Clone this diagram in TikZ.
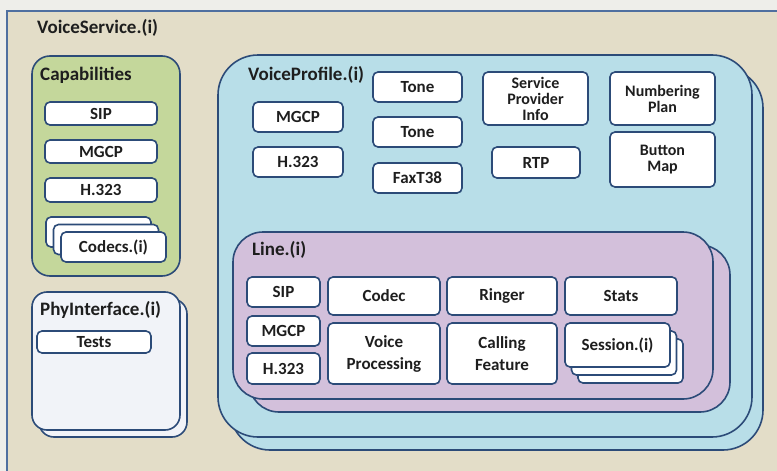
\documentclass[tikz,border=0pt]{standalone}
\usepackage{fontspec}
\setmainfont{Carlito}
\begin{document}
\begin{tikzpicture}[x=1pt,y=-1pt]
\definecolor{canvas}{HTML}{EEEEEA}
\definecolor{frameFill}{HTML}{E3DDC8}
\definecolor{frameLine}{HTML}{4F6FA0}
\definecolor{edge}{HTML}{2C4B78}
\definecolor{capFill}{HTML}{C4D79B}
\definecolor{profFill}{HTML}{B8DEE8}
\definecolor{lineFill}{HTML}{D3C0DB}
\definecolor{phyFill}{HTML}{F1F3F8}
\definecolor{ink}{HTML}{1E1E1E}
\tikzset{
  region/.style={draw=edge, line width=1.6pt, inner sep=0pt, outer sep=0pt},
  item/.style={region, fill=white, rounded corners=5pt, text=ink,
    font=\bfseries\fontsize{17}{19}\selectfont, align=center},
  tight/.style={font=\bfseries\fontsize{16}{16}\selectfont},
  title/.style={anchor=west, inner sep=0pt, text=ink,
    font=\bfseries\fontsize{19}{21}\selectfont},
}
% box from corner (x1,y1) to corner (x2,y2)
\newcommand{\boxat}[7][]{%
  \node[#2, #1, minimum width={(#5-#3)*1pt}, minimum height={(#6-#4)*1pt}]
    (#7) at ({(#3+#5)/2},{(#4+#6)/2})}

\useasboundingbox (0,0) rectangle (777,471);
\fill[canvas] (0,0) rectangle (777,471);
\draw[frameLine, fill=frameFill, line width=1.2pt] (7,11) rectangle (800,500);
\node[title] (vs) at (37,28) {VoiceService.(i)};

% Capabilities
\boxat[fill=capFill, rounded corners=18pt]{region}{32}{56}{180}{276}{cap} {};
\node[title] (capt) at (40,75) {Capabilities};
\boxat{item}{45}{102}{157}{125}{capsip} {SIP};
\boxat{item}{45}{140}{157}{163}{capmgcp} {MGCP};
\boxat{item}{45}{178}{157}{202}{caph} {H.323};
\boxat{item}{46}{217}{151}{247}{codc} {};
\boxat{item}{53.5}{224.5}{158.5}{254.5}{codb} {};
\boxat{item}{61}{232}{166}{262}{coda} {Codecs.(i)};

% PhyInterface
\boxat[fill=phyFill, rounded corners=15pt]{region}{39}{299}{187}{437}{phyb} {};
\boxat[fill=phyFill, rounded corners=15pt]{region}{32}{292}{180}{430}{phy} {};
\node[title] (phyt) at (40,310) {PhyInterface.(i)};
\boxat{item}{37}{331}{151}{353}{tests} {Tests};

% VoiceProfile
\boxat[fill=profFill, rounded corners=40pt]{region}{230}{68}{763}{450}{vpb} {};
\boxat[fill=profFill, rounded corners=40pt]{region}{218}{55}{752}{437}{vp} {};
\node[title] (vpt) at (248,75) {VoiceProfile.(i)};
\boxat{item}{253}{102}{343}{132}{vpmgcp} {MGCP};
\boxat{item}{253}{147}{343}{177}{vph} {H.323};
\boxat{item}{373}{72}{462}{102}{tonea} {Tone};
\boxat{item}{373}{117}{462}{147}{toneb} {Tone};
\boxat{item}{373}{163}{462}{193}{fax} {FaxT38};
\boxat[tight]{item}{483}{72}{588}{125}{spi} {Service\\Provider\\Info};
\boxat{item}{492}{147}{580}{178}{rtp} {RTP};
\boxat[tight]{item}{610}{72}{715}{125}{nump} {Numbering\\Plan};
\boxat[tight]{item}{610}{132}{715}{187}{btn} {Button\\Map};

% Line
\boxat[fill=lineFill, rounded corners=30pt]{region}{249}{245}{730}{412}{lnb} {};
\boxat[fill=lineFill, rounded corners=30pt]{region}{233}{232}{713}{399}{ln} {};
\node[title] (lnt) at (252,250) {Line.(i)};
\boxat{item}{247}{277}{320}{307}{lsip} {SIP};
\boxat{item}{247}{316}{320}{346}{lmgcp} {MGCP};
\boxat{item}{247}{353}{320}{384}{lh} {H.323};
\boxat{item}{328}{277}{440}{315}{codec} {Codec};
\boxat{item}{328}{323}{440}{384}{vproc} {Voice\\[3pt]Processing};
\boxat{item}{447}{277}{557}{315}{ring} {Ringer};
\boxat{item}{447}{323}{557}{384}{call} {Calling\\[3pt]Feature};
\boxat{item}{565}{277}{677}{315}{stats} {Stats};
\boxat{item}{578}{339}{683}{383}{sesc} {};
\boxat{item}{571.5}{331}{676.5}{375}{sesb} {};
\boxat{item}{565}{323}{670}{367}{sesa} {Session.(i)};
\end{tikzpicture}
\end{document}
